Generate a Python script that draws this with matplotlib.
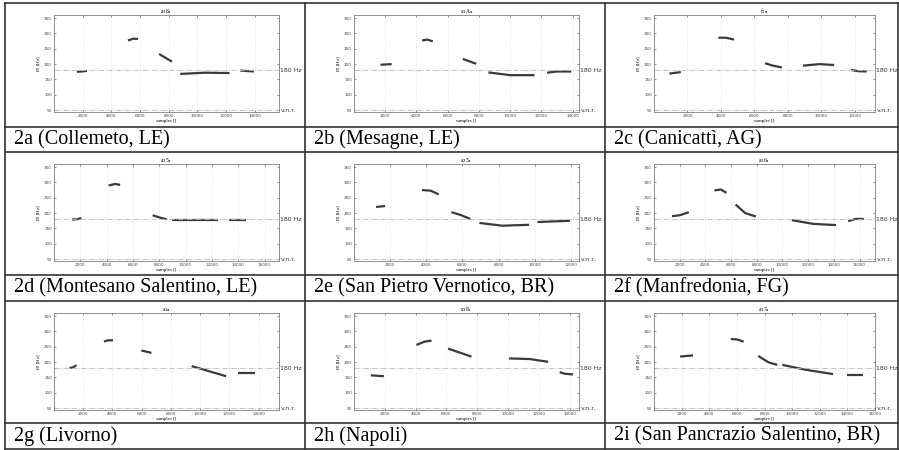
import matplotlib
matplotlib.use("Agg")
import matplotlib.pyplot as plt
from matplotlib.lines import Line2D

# voiced stretches of each contour: sample positions and F0 [Hz]
x_2a = [[1600, 1950, 2300], [5160, 5550, 5860], [7330, 7800, 8230], [8810, 10500, 12250], [13000, 13950]]
f_2a = [[175, 176, 178], [277, 283, 282], [233, 220, 208], [168, 172, 171], [179, 176]]
x_2b = [[1690, 2410], [4360, 4700, 5040], [6960, 7820], [8600, 10000, 11550], [12350, 13000, 13900]]
f_2b = [[198, 200], [277, 280, 274], [217, 201], [173, 164, 164], [172, 176, 176]]
x_2c = [[920, 1600], [3840, 4300, 4780], [6630, 7100, 7640], [8900, 9900, 10760], [11770, 12200, 12710]]
f_2c = [[169, 174], [286, 286, 280], [203, 195, 189], [195, 200, 197], [181, 177, 176]]
x_2d = [[1370, 1750, 2080], [4150, 4650, 5030], [7500, 8000, 8560], [8940, 12470], [13300, 14620]]
f_2d = [[179, 180, 184], [290, 295, 292], [193, 186, 180], [179, 179], [179, 179]]
x_2e = [[1220, 1720], [3760, 4250, 4690], [5390, 5900, 6440], [6940, 8200, 9690], [10150, 11960]]
f_2e = [[220, 223], [275, 273, 261], [203, 194, 181], [168, 159, 162], [171, 175]]
x_2f = [[1400, 2000, 2710], [4700, 5200, 5640], [6350, 7100, 7930], [10730, 12400, 14170], [15110, 15700, 16330]]
f_2f = [[190, 193, 203], [274, 277, 266], [228, 200, 189], [177, 165, 161], [174, 181, 181]]
x_2g = [[1060, 1300, 1540], [3420, 3700, 4040], [5980, 6670], [9420, 11780], [12620, 13790]]
f_2g = [[181, 183, 190], [267, 271, 271], [238, 230], [187, 154], [166, 166]]
x_2h = [[1090, 1940], [4050, 4600, 5030], [6110, 7620], [10060, 11400, 12600], [13350, 13700, 14220]]
f_2h = [[157, 154], [256, 267, 270], [244, 218], [212, 210, 201], [167, 162, 160]]
x_2i = [[1890, 2830], [5560, 6000, 6490], [7550, 8300, 8930], [9290, 11000, 12970], [13990, 15150]]
f_2i = [[218, 222], [275, 274, 267], [220, 199, 191], [191, 175, 161], [159, 159]]

captions = ["2a (Collemeto, LE)", "2b (Mesagne, LE)", "2c (Canicattì, AG)",
            "2d (Montesano Salentino, LE)", "2e (San Pietro Vernotico, BR)", "2f (Manfredonia, FG)",
            "2g (Livorno)", "2h (Napoli)", "2i (San Pancrazio Salentino, BR)"]
titles = ["a$_1$8$_a$", "a$_1$A$_a$", "f$_{1a}$", "a$_2$5$_a$", "a$_2$5$_a$", "a$_2$6$_a$",
          "a$_{1a}$", "a$_1$8$_a$", "a$_1$7$_a$"]
x_max = [15700, 14400, 13200, 17100, 12450, 17200, 15400, 14600, 16000]
xs = [x_2a, x_2b, x_2c, x_2d, x_2e, x_2f, x_2g, x_2h, x_2i]
fs = [f_2a, f_2b, f_2c, f_2d, f_2e, f_2f, f_2g, f_2h, f_2i]

W, H = 899, 450
fig = plt.figure(figsize=(W / 100, H / 100), dpi=100)

col_left = [5, 305, 605, 898]
ax_width = [225, 225, 221]
row_top = [3, 152, 301]
cap_top = [127, 275, 423]
row_bot = [152, 301, 449]

for i in range(9):
    r, c = i // 3, i % 3
    left = col_left[c] + 49
    top = row_top[r] + 12
    ax = fig.add_axes([left / W, 1 - (top + 97) / H, ax_width[c] / W, 97 / H])
    for sx, sf in zip(xs[i], fs[i]):
        ax.plot(sx, sf, color='#3a3a3a', lw=1.6, solid_capstyle='butt')
    ax.axhline(180, color='#bbbbbb', lw=0.6, ls='-.')
    ax.axhline(50, color='#bbbbbb', lw=0.6, ls='-.')
    ax.set_xlim(0, x_max[i])
    ax.set_ylim(44, 360)
    ax.set_xticks(range(2000, x_max[i] + 1, 2000))
    ax.set_yticks(range(50, 351, 50))
    ax.xaxis.grid(True, color='#dddddd', lw=0.5, ls=':')
    ax.tick_params(direction='in', length=1.5, width=0.4, top=True, right=True,
                   labelsize=3, pad=1.5, colors='#444444')
    for s in ax.spines.values():
        s.set_linewidth(0.5)
        s.set_color('#666666')
    ax.set_title(titles[i], fontsize=4, pad=1.5, family='Liberation Serif')
    ax.set_ylabel("F$_0$ [Hz]", fontsize=3.5, labelpad=1, family='Liberation Serif')
    ax.set_xlabel("samples []", fontsize=3.5, labelpad=1, family='Liberation Serif')
    ax.text(1.006, 180, "180 Hz", transform=ax.get_yaxis_transform(), va='center',
            fontsize=4.5, color='#333333')
    ax.text(1.006, 48, "v.n.r.", transform=ax.get_yaxis_transform(), va='center',
            fontsize=4.5, color='#333333')
    fig.text((col_left[c] + 9) / W, 1 - (cap_top[r] + row_bot[r]) / 2 / H, captions[i],
             fontsize=14.5, family='Liberation Serif', va='center', ha='left')

# table borders
for y in row_top + cap_top + [449]:
    fig.add_artist(Line2D([5 / W, 898 / W], [1 - y / H, 1 - y / H], color='#333333', lw=1.2))
for x in col_left:
    fig.add_artist(Line2D([x / W, x / W], [1 - 3 / H, 1 - 449 / H], color='#333333', lw=1.2))

fig.savefig("out.png", dpi=100)
